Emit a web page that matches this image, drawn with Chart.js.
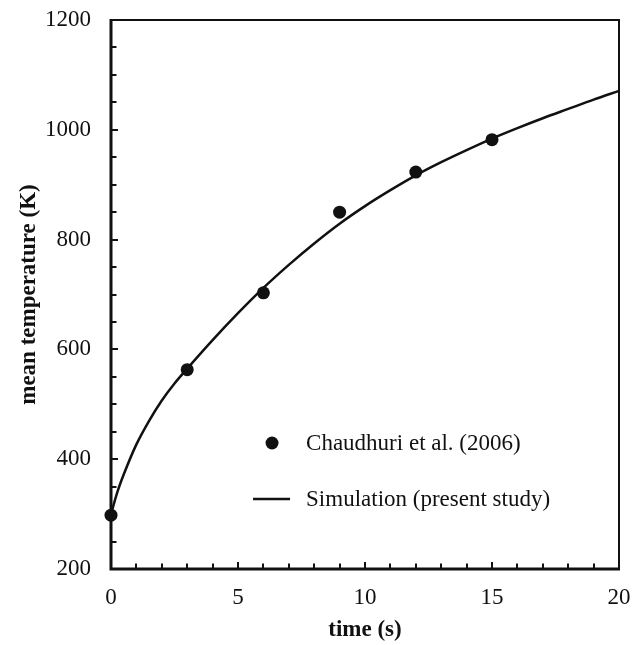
<!DOCTYPE html>
<html>
<head>
<meta charset="utf-8">
<title>Mean temperature vs time</title>
<script src="https://cdn.jsdelivr.net/npm/chart.js@4.4.1/dist/chart.umd.min.js"></script>
<style>
  html, body { margin: 0; padding: 0; background: #ffffff; }
  #wrap { width: 642px; height: 645px; }
</style>
</head>
<body>
<div id="wrap"><canvas id="c" width="642" height="645"></canvas></div>
<script>
// Measured mean temperature (Chaudhuri et al., 2006)
const expTime = [0, 3, 6, 9, 12, 15];
const expTemp = [298, 563, 703, 850, 923, 982];

// Simulated mean temperature (present study)
const simTime = [0, 0.25, 0.5, 1, 1.5, 2, 2.5, 3, 4, 5, 6, 7, 8, 9, 10, 11, 12, 13, 14, 15, 16, 17, 18, 19, 20];
const simTemp = [300, 340, 372, 427, 470, 507, 538, 565, 617, 666, 712, 754, 793, 829, 861, 890, 917, 941, 963, 984, 1003, 1021, 1038, 1055, 1071];

// Axis ranges and tick steps
const xTicks = { min: 0, max: 20, major: 5, minor: 1 };
const yTicks = { min: 200, max: 1200, major: 200, minor: 50 };

const seriesLabels = ['Chaudhuri et al. (2006)', 'Simulation (present study)'];

const INK = '#111111';
const SERIF = '"Liberation Serif", "Times New Roman", serif';

const toPoints = (xs, ys) => xs.map((v, i) => ({ x: v, y: ys[i] }));

// Box frame with inward major/minor ticks
const frameTicks = {
  id: 'frameTicks',
  afterDatasetsDraw(chart) {
    const { ctx, chartArea: a, scales: { x, y } } = chart;
    ctx.save();
    ctx.strokeStyle = INK;
    ctx.lineCap = 'butt';

    // top and right edges (thinner)
    ctx.lineWidth = 2;
    ctx.beginPath();
    ctx.moveTo(a.left, a.top);
    ctx.lineTo(a.right, a.top);
    ctx.lineTo(a.right, a.bottom);
    ctx.stroke();

    // left and bottom axes
    ctx.lineWidth = 3;
    ctx.beginPath();
    ctx.moveTo(a.left, a.top - 1);
    ctx.lineTo(a.left, a.bottom);
    ctx.lineTo(a.right + 1, a.bottom);
    ctx.stroke();

    // ticks
    ctx.lineWidth = 2;
    ctx.beginPath();
    for (let v = xTicks.min; v <= xTicks.max + 1e-9; v += xTicks.minor) {
      const px = Math.round(x.getPixelForValue(v));
      const len = (v % xTicks.major === 0) ? 7 : 5.5;
      ctx.moveTo(px, a.bottom);
      ctx.lineTo(px, a.bottom - len);
    }
    for (let v = yTicks.min; v <= yTicks.max + 1e-9; v += yTicks.minor) {
      const py = Math.round(y.getPixelForValue(v));
      const len = (v % yTicks.major === 0) ? 7 : 5.5;
      ctx.moveTo(a.left, py);
      ctx.lineTo(a.left + len, py);
    }
    ctx.stroke();
    ctx.restore();
  }
};

// Legend drawn inside the plot area
const innerLegend = {
  id: 'innerLegend',
  afterDraw(chart) {
    const { ctx, scales: { x, y } } = chart;
    const ds = chart.data.datasets;
    const markX = x.getPixelForValue(6.34);
    const textX = x.getPixelForValue(7.68);
    const row1 = y.getPixelForValue(429.5);
    const row2 = y.getPixelForValue(327.5);
    ctx.save();
    ctx.font = '23px ' + SERIF;
    ctx.fillStyle = INK;
    ctx.textBaseline = 'middle';
    ctx.textAlign = 'left';

    // marker for measurements
    ctx.beginPath();
    ctx.arc(markX, row1, 6.5, 0, Math.PI * 2);
    ctx.fill();
    ctx.fillText(ds[0].label, textX, row1 + 1);

    // line sample for simulation
    ctx.strokeStyle = INK;
    ctx.lineWidth = 2.5;
    ctx.beginPath();
    ctx.moveTo(markX - 19, row2);
    ctx.lineTo(markX + 18, row2);
    ctx.stroke();
    ctx.fillText(ds[1].label, textX, row2 + 1);
    ctx.restore();
  }
};

new Chart(document.getElementById('c'), {
  type: 'scatter',
  data: {
    datasets: [
      {
        label: seriesLabels[0],
        data: toPoints(expTime, expTemp),
        showLine: false,
        pointRadius: 6.5,
        pointHoverRadius: 6.5,
        pointBackgroundColor: INK,
        pointBorderWidth: 0,
        clip: false,
        order: 0
      },
      {
        label: seriesLabels[1],
        data: toPoints(simTime, simTemp),
        showLine: true,
        borderColor: INK,
        borderWidth: 2.5,
        pointRadius: 0,
        cubicInterpolationMode: 'monotone',
        clip: false,
        order: 1
      }
    ]
  },
  options: {
    responsive: false,
    animation: false,
    events: [],
    layout: { padding: { top: 20, right: 23, left: 0, bottom: 0 } },
    plugins: {
      legend: { display: false },
      tooltip: { enabled: false }
    },
    scales: {
      x: {
        type: 'linear',
        position: 'bottom',
        min: xTicks.min,
        max: xTicks.max,
        grid: { display: false, drawTicks: false },
        border: { display: false },
        ticks: {
          stepSize: xTicks.major,
          color: INK,
          padding: 15,
          maxRotation: 0,
          font: { family: SERIF, size: 23 },
          callback: (v) => String(v)
        },
        title: {
          display: true,
          text: 'time (s)',
          color: INK,
          padding: { top: 0, bottom: 1 },
          font: { family: SERIF, size: 23, weight: 'bold' }
        },
        afterFit(s) {
          s.height = 76;
          s.paddingLeft = 0;
          s.paddingRight = 0;
        }
      },
      y: {
        type: 'linear',
        min: yTicks.min,
        max: yTicks.max,
        grid: { display: false, drawTicks: false },
        border: { display: false },
        ticks: {
          stepSize: yTicks.major,
          color: INK,
          padding: 20,
          font: { family: SERIF, size: 23 },
          callback: (v) => String(v)
        },
        title: {
          display: true,
          text: 'mean temperature (K)',
          color: INK,
          padding: { top: 15, bottom: 0 },
          font: { family: SERIF, size: 23, weight: 'bold' }
        },
        afterFit(s) {
          s.width = 111;
          s.paddingTop = 0;
          s.paddingBottom = 0;
        }
      }
    }
  },
  plugins: [frameTicks, innerLegend]
});
</script>
</body>
</html>
